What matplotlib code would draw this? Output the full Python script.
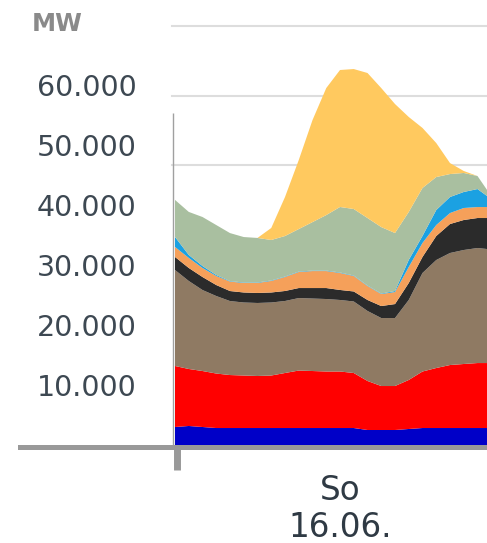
import matplotlib
matplotlib.use("Agg")
import matplotlib.pyplot as plt
import matplotlib.transforms as mtransforms
from matplotlib.lines import Line2D

# Stromerzeugung Sonntag 16.06., Werte in MW (stündlich)
stunden = [0, 1, 2, 3, 4, 5, 6, 7, 8, 9, 10, 11, 12, 13, 14, 15, 16, 17, 18, 19, 20, 21, 22, 22.7]

wasser = [3000, 3170, 3000, 2830, 2830, 2830, 2830, 2830, 2830, 2830, 2830, 2830,
          2830, 2830, 2500, 2500, 2500, 2670, 2830, 2830, 2830, 2830, 2830, 2830]
kernenergie = [10170, 9500, 9330, 9080, 8830, 8750, 8670, 8750, 9170, 9580, 9500, 9420,
               9420, 9170, 8170, 7330, 7330, 8170, 9420, 10000, 10500, 10670, 10830, 10830]
braunkohle = [16000, 14670, 13500, 12920, 12330, 12170, 12170, 12170, 12000, 12080, 12080, 12080,
              11920, 11920, 11670, 11330, 11330, 13330, 16420, 18000, 18670, 19000, 19170, 19000]
steinkohle = [2170, 2170, 2170, 1830, 1670, 1670, 1670, 1670, 1670, 1670, 1750, 1830,
              1670, 1670, 1830, 2000, 2330, 2830, 2670, 4000, 4830, 5000, 5000, 5170]
erdgas = [1670, 1670, 1500, 1500, 1580, 1580, 1670, 1920, 2330, 2670, 2830, 2830,
          2830, 2580, 2330, 2000, 2000, 2670, 2330, 1830, 1830, 2000, 1830, 1830]
pumpspeicher = [1670, 500, 330, 170, 80, 80, 80, 80, 80, 80, 80, 80,
                80, 80, 80, 80, 170, 1170, 1170, 2500, 2670, 2670, 3000, 1830]
wind = [6170, 7170, 8170, 8330, 8000, 7580, 7420, 6750, 6750, 7080, 8080, 9250,
        10920, 11080, 11250, 11080, 9670, 8000, 8000, 5500, 3830, 3170, 2170, 1000]
solar = [0, 0, 0, 0, 0, 0, 0, 2000, 6500, 11500, 17000, 21170,
         22830, 23330, 24170, 23170, 21500, 15830, 10000, 5670, 1830, 330, 0, 0]

farben = ["#0000c8", "#ff0000", "#8f7a63", "#2b2b2b", "#f5a05a", "#1ba1e2", "#a9bfa0", "#ffc95f"]

y_ticks = [10000, 20000, 30000, 40000, 50000, 60000]
y_labels = ["10.000", "20.000", "30.000", "40.000", "50.000", "60.000"]
raster = [46670, 58170, 69830]

W, H = 487, 543
fig = plt.figure(figsize=(W / 100, H / 100), dpi=100)
ax = fig.add_axes([170 / W, 98 / H, 317 / W, 445 / H])

ax.stackplot(stunden, wasser, kernenergie, braunkohle, steinkohle, erdgas,
             pumpspeicher, wind, solar, colors=farben, linewidth=0, zorder=2)

for r in raster:
    ax.axhline(r, xmin=0.006, xmax=1, color="#dddddd", lw=1.5, zorder=0)
ax.vlines(-0.15, 0, 55300, color="#a0a0a0", lw=1, zorder=1)

ax.set_xlim(-5 / 13.75, 312 / 13.75)
ax.set_ylim(0, 74167)
for s in ax.spines.values():
    s.set_visible(False)

ax.set_yticks(y_ticks)
ax.set_yticklabels(y_labels, fontsize=20.5, color="#3d4852")
ax.tick_params(axis="y", length=0, pad=24)
ax.set_xticks([0.15])
ax.set_xticklabels([""])
ax.tick_params(axis="x", length=18, width=5, color="#999999", direction="out")

# graue Grundlinie
fig.add_artist(Line2D([20 / W, 1], [96 / H, 96 / H], color="#999999", lw=3.6,
                      transform=fig.transFigure))

fig.text(32 / W, 1 - 24 / H, "MW", fontsize=17.5, fontweight="bold",
         color="#8a8a8a", ha="left", va="center")

trans = mtransforms.blended_transform_factory(ax.transData, fig.transFigure)
ax.text(12, 1 - 509 / H, "So\n16.06.", transform=trans, fontsize=23.5,
        color="#2f3a44", ha="center", va="center", multialignment="center",
        linespacing=1.15)

fig.savefig("out.png", dpi=100)
